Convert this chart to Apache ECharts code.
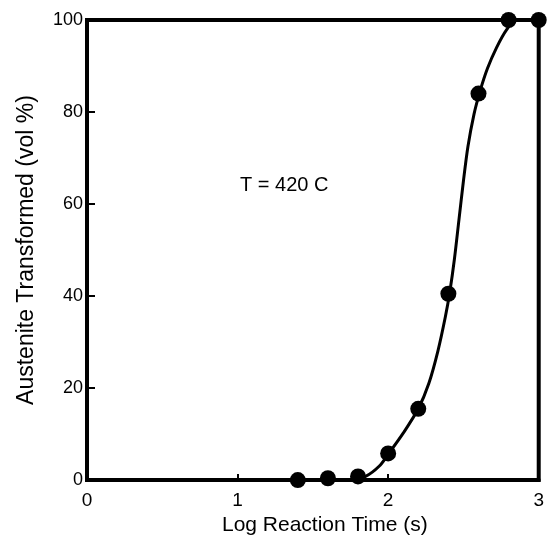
<!DOCTYPE html>
<html>
<head>
<meta charset="utf-8">
<script src="https://cdn.jsdelivr.net/npm/echarts@6/dist/echarts.min.js"></script>
<style>
  html, body { margin: 0; padding: 0; background: #fff; }
  #chart { width: 547px; height: 541px; }
</style>
</head>
<body>
<div id="chart"></div>
<script>
// Log reaction time (s) and measured austenite fraction transformed (vol %)
const logTime = [1.4, 1.6, 1.8, 2.0, 2.2, 2.4, 2.6, 2.8, 3.0];
const transformed = [0, 0.4, 0.8, 5.8, 15.5, 40.5, 84, 100, 100];

// fitted transformation curve (sigmoid through the measurements)
const curveTime = [1.75, 1.85, 1.94, 2.0, 2.1, 2.2, 2.27, 2.33, 2.38, 2.41, 2.44, 2.47, 2.5, 2.53, 2.57, 2.61, 2.66, 2.72, 2.785, 2.85, 3.0];
const curveValue = [0, 0.8, 3.0, 5.6, 10.2, 15.5, 21, 28, 35.5, 41, 48, 56.5, 65, 72.5, 79.5, 84.5, 89.5, 94, 97.8, 100, 100];

const xTicks = [0, 1, 2, 3];
const yTicks = [0, 20, 40, 60, 80, 100];

const points = logTime.map((t, i) => [t, transformed[i]]);
const curve = curveTime.map((t, i) => [t, curveValue[i]]);

const font = 'Liberation Sans, Arial, Helvetica, sans-serif';
const chart = echarts.init(document.getElementById('chart'));

chart.setOption({
  animation: false,
  backgroundColor: '#fff',
  grid: {
    left: 87, right: 6, top: 20, bottom: 57,
    show: true, borderColor: '#000', borderWidth: 4, backgroundColor: 'transparent'
  },
  xAxis: {
    type: 'value',
    min: xTicks[0], max: xTicks[xTicks.length - 1], interval: 1,
    name: 'Log Reaction Time (s)',
    nameLocation: 'middle', nameGap: 32,
    nameTextStyle: { color: '#000', fontSize: 21, fontFamily: font, padding: [0, 0, 0, 24] },
    axisLine: { show: true, lineStyle: { color: '#000', width: 4 } },
    axisTick: { show: true, inside: true, length: 6, lineStyle: { color: '#000', width: 2 } },
    axisLabel: { color: '#000', fontSize: 19, fontFamily: font, margin: 11, showMaxLabel: true },
    splitLine: { show: false }
  },
  yAxis: {
    type: 'value',
    min: yTicks[0], max: yTicks[yTicks.length - 1], interval: 20,
    name: 'Austenite Transformed (vol %)',
    nameLocation: 'middle', nameGap: 49,
    nameTextStyle: { color: '#000', fontSize: 23, fontFamily: font },
    axisLine: { show: true, lineStyle: { color: '#000', width: 4 } },
    axisTick: { show: true, inside: true, length: 8, lineStyle: { color: '#000', width: 2 } },
    axisLabel: { color: '#000', fontSize: 18, fontFamily: font, margin: 4 },
    splitLine: { show: false }
  },
  graphic: [{
    type: 'text',
    left: 240, top: 175,
    style: { text: 'T = 420 C', fill: '#000', font: '20px ' + font }
  }],
  series: [
    {
      type: 'line',
      data: curve,
      smooth: 0.3,
      showSymbol: false,
      lineStyle: { color: '#000', width: 3 },
      z: 2
    },
    {
      type: 'scatter',
      data: points,
      symbol: 'circle',
      symbolSize: 16,
      itemStyle: { color: '#000', opacity: 1 },
      clip: false,
      z: 3
    }
  ]
});
</script>
</body>
</html>
